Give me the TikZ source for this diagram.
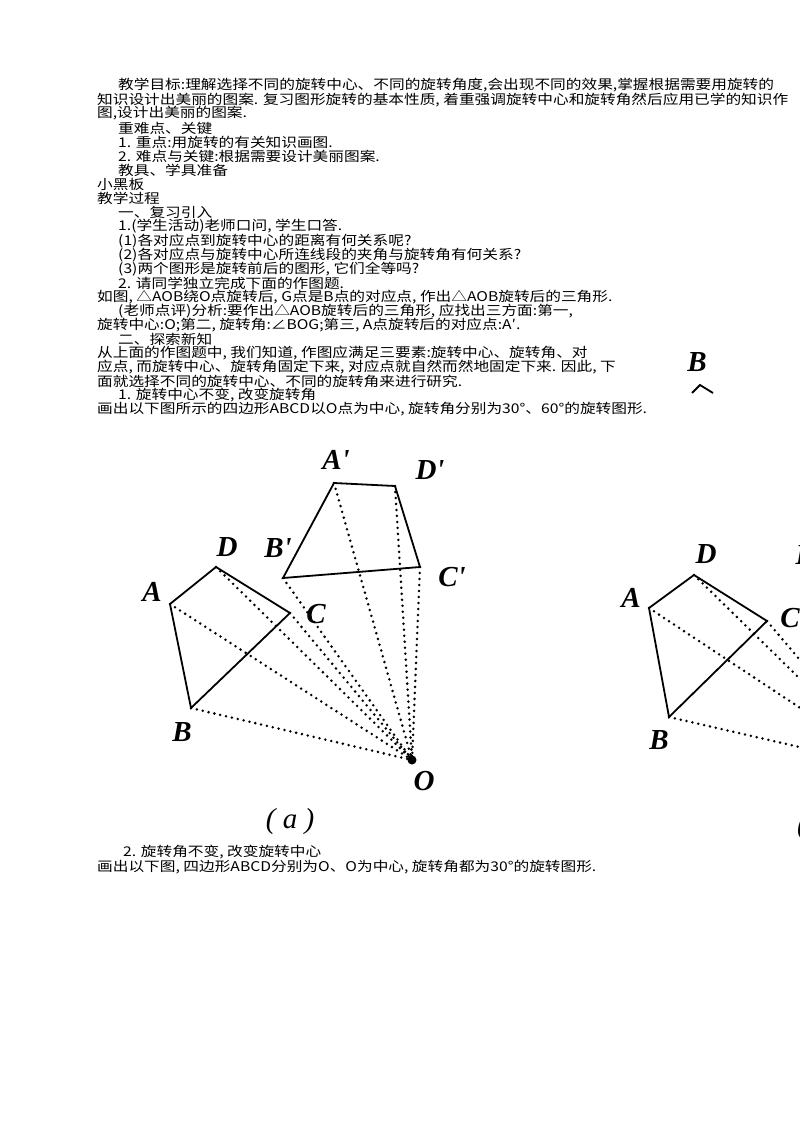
\documentclass[tikz,border=0pt]{standalone}
\usepackage{fontspec}
\newfontfamily\cjk[FakeStretch=1.17]{Noto Sans CJK SC}
\newfontfamily\tnr{Liberation Serif}
\begin{document}
\begin{tikzpicture}[x=1pt,y=-1pt,
  txt/.style={anchor=west,inner sep=0pt,font=\cjk\fontsize{13.4}{14}\selectfont},
  lbl/.style={inner sep=0pt,font=\tnr\bfseries\itshape\fontsize{29}{30}\selectfont},
  edge/.style={line width=1.8pt},
  dots/.style={line width=2.8pt,line cap=round,dash pattern=on 0pt off 6pt}]
\useasboundingbox (0,0) rectangle (800,1132);
\node[txt] (l1) at (118,85) {教学目标:理解选择不同的旋转中心、不同的旋转角度,会出现不同的效果,掌握根据需要用旋转的};
\node[txt] (l2) at (97,100) {知识设计出美丽的图案. 复习图形旋转的基本性质, 着重强调旋转中心和旋转角然后应用已学的知识作};
\node[txt] (l3) at (97,113) {图,设计出美丽的图案.};
\node[txt] (l4) at (118,128) {重难点、关键};
\node[txt] (l5) at (118,142) {1. 重点:用旋转的有关知识画图.};
\node[txt] (l6) at (118,156) {2. 难点与关键:根据需要设计美丽图案.};
\node[txt] (l7) at (118,170) {教具、学具准备};
\node[txt] (l8) at (97,184) {小黑板};
\node[txt] (l9) at (97,198) {教学过程};
\node[txt] (l10) at (118,212) {一、复习引入};
\node[txt] (l11) at (118,226) {1.(学生活动)老师口问, 学生口答.};
\node[txt] (l12) at (118,241) {(1)各对应点到旋转中心的距离有何关系呢?};
\node[txt] (l13) at (118,255) {(2)各对应点与旋转中心所连线段的夹角与旋转角有何关系?};
\node[txt] (l14) at (118,269) {(3)两个图形是旋转前后的图形, 它们全等吗?};
\node[txt] (l15) at (118,283) {2. 请同学独立完成下面的作图题.};
\node[txt] (l16) at (97,297) {如图, △AOB绕O点旋转后, G点是B点的对应点, 作出△AOB旋转后的三角形.};
\node[txt] (l17) at (118,311) {(老师点评)分析:要作出△AOB旋转后的三角形, 应找出三方面:第一,};
\node[txt] (l18) at (97,325) {旋转中心:O;第二, 旋转角:∠BOG;第三, A点旋转后的对应点:A′.};
\node[txt] (l19) at (118,339) {二、探索新知};
\node[txt] (l20) at (97,353) {从上面的作图题中, 我们知道, 作图应满足三要素:旋转中心、旋转角、对};
\node[txt] (l21) at (97,367) {应点, 而旋转中心、旋转角固定下来, 对应点就自然而然地固定下来. 因此, 下};
\node[txt] (l22) at (97,381) {面就选择不同的旋转中心、不同的旋转角来进行研究.};
\node[txt] (l23) at (118,395) {1. 旋转中心不变, 改变旋转角};
\node[txt] (l24) at (97,409) {画出以下图所示的四边形ABCD以O点为中心, 旋转角分别为30°、60°的旋转图形.};
\node[txt] (l25) at (123,852) {2. 旋转角不变, 改变旋转中心};
\node[txt] (l26) at (97,867) {画出以下图, 四边形ABCD分别为O、O为中心, 旋转角都为30°的旋转图形.};
% big B
\node[lbl] (bigB) at (697,362) {B};
\draw[line width=1.8pt] (692,393) -- (700,385) -- (713,393);
% figure (a)
\coordinate (A) at (170,604); \coordinate (D) at (216,567);
\coordinate (C) at (290,613); \coordinate (B) at (191,708);
\coordinate (A1) at (334,483); \coordinate (D1) at (395,486);
\coordinate (C1) at (420,567); \coordinate (B1) at (283,578);
\coordinate (O) at (412,760);
\foreach \p in {A,B,C,D,A1,B1,C1,D1} \draw[dots] (\p) -- (O);
\draw[edge] (A) -- (D) -- (C) -- (B) -- cycle;
\draw[edge] (A1) -- (D1) -- (C1) -- (B1) -- cycle;
\fill (O) circle (4.5);
\node[lbl] (la) at (152,592) {A};
\node[lbl] (ld) at (227,547) {D};
\node[lbl] (lc) at (316,614) {C};
\node[lbl] (lb) at (182,732) {B};
\node[lbl] (la1) at (336,460) {A'};
\node[lbl] (ld1) at (430,470) {D'};
\node[lbl] (lc1) at (452,577) {C'};
\node[lbl] (lb1) at (278,548) {B'};
\node[lbl] (lo) at (424,781) {O};
\node[lbl,font=\tnr\itshape\fontsize{29}{30}\selectfont] (cap) at (290,822) {( a )};
% right figure (clipped)
\begin{scope}
\clip (0,0) rectangle (800,1132);
\coordinate (rA) at (649,608); \coordinate (rD) at (694,575);
\coordinate (rC) at (767,621); \coordinate (rB) at (669,717);
\coordinate (rO) at (891,768);
\foreach \p in {rA,rB,rC,rD} \draw[dots] (\p) -- (rO);
\draw[edge] (rA) -- (rD) -- (rC) -- (rB) -- cycle;
\node[lbl] (rla) at (631,598) {A};
\node[lbl] (rld) at (706,554) {D};
\node[lbl] (rlc) at (790,618) {C};
\node[lbl] (rlb) at (659,740) {B};
\node[lbl] (rld2) at (806,555) {D};
\node[lbl,font=\tnr\itshape\fontsize{29}{30}\selectfont] (rcap) at (802,828) {(};
\end{scope}
\end{tikzpicture}
\end{document}
